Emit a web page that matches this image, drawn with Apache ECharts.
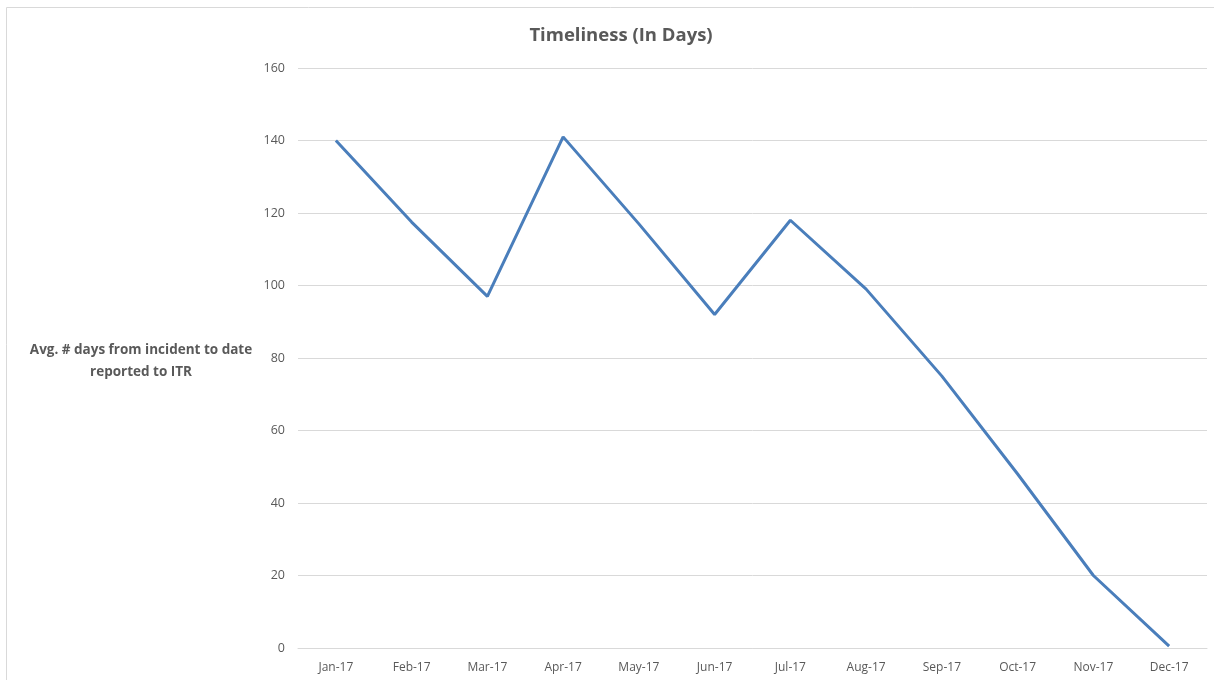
<!DOCTYPE html>
<html>
<head>
<meta charset="utf-8">
<script src="https://cdn.jsdelivr.net/npm/echarts@6/dist/echarts.min.js"></script>
<style>
  html, body { margin: 0; padding: 0; background: #fff; }
  #main { width: 1214px; height: 680px; }
</style>
</head>
<body>
<div id="main"></div>
<script>
// values
const months = ['Jan-17', 'Feb-17', 'Mar-17', 'Apr-17', 'May-17', 'Jun-17',
                'Jul-17', 'Aug-17', 'Sep-17', 'Oct-17', 'Nov-17', 'Dec-17'];
const avgDays = [140, 117.5, 97, 141, 117, 92, 118, 99, 75, 48, 20, 0.5];
const yTicks = { min: 0, max: 160, interval: 20 };

const font = '"Open Sans", "Noto Sans", sans-serif';
const grey = '#595959';

let myChart = echarts.init(document.getElementById('main'));
myChart.setOption({
  animation: false,
  title: {
    text: 'Timeliness (In Days)',
    left: 616,
    top: 21,
    textAlign: 'center',
    textStyle: { fontFamily: font, fontSize: 18.5, fontWeight: 'bold', color: grey }
  },
  graphic: [
    {
      type: 'rect',
      shape: { x: 6.5, y: 7.5, width: 1220, height: 690 },
      style: { fill: 'none', stroke: '#d9d9d9', lineWidth: 1 },
      silent: true
    },
    {
      type: 'text',
      x: 141,
      y: 361,
      style: {
        text: 'Avg. # days from incident to date\nreported to ITR',
        font: 'bold 13.5px ' + font,
        fill: grey,
        align: 'center',
        verticalAlign: 'middle',
        lineHeight: 22
      }
    }
  ],
  grid: { left: 298, right: 7, top: 68, bottom: 32 },
  xAxis: {
    type: 'category',
    data: months,
    boundaryGap: true,
    axisLine: { lineStyle: { color: '#d9d9d9' } },
    axisTick: { length: 5, lineStyle: { color: '#d9d9d9' } },
    axisLabel: { fontFamily: font, fontSize: 12, color: grey, margin: 14 }
  },
  yAxis: {
    type: 'value',
    min: yTicks.min,
    max: yTicks.max,
    interval: yTicks.interval,
    axisLine: { show: false },
    axisTick: { show: false },
    axisLabel: { fontFamily: font, fontSize: 12.5, color: grey, margin: 13 },
    splitLine: { lineStyle: { color: '#d9d9d9' } }
  },
  series: [
    {
      type: 'line',
      data: avgDays,
      symbol: 'none',
      lineStyle: { color: '#4a7ebb', width: 3 }
    }
  ]
});
</script>
</body>
</html>
